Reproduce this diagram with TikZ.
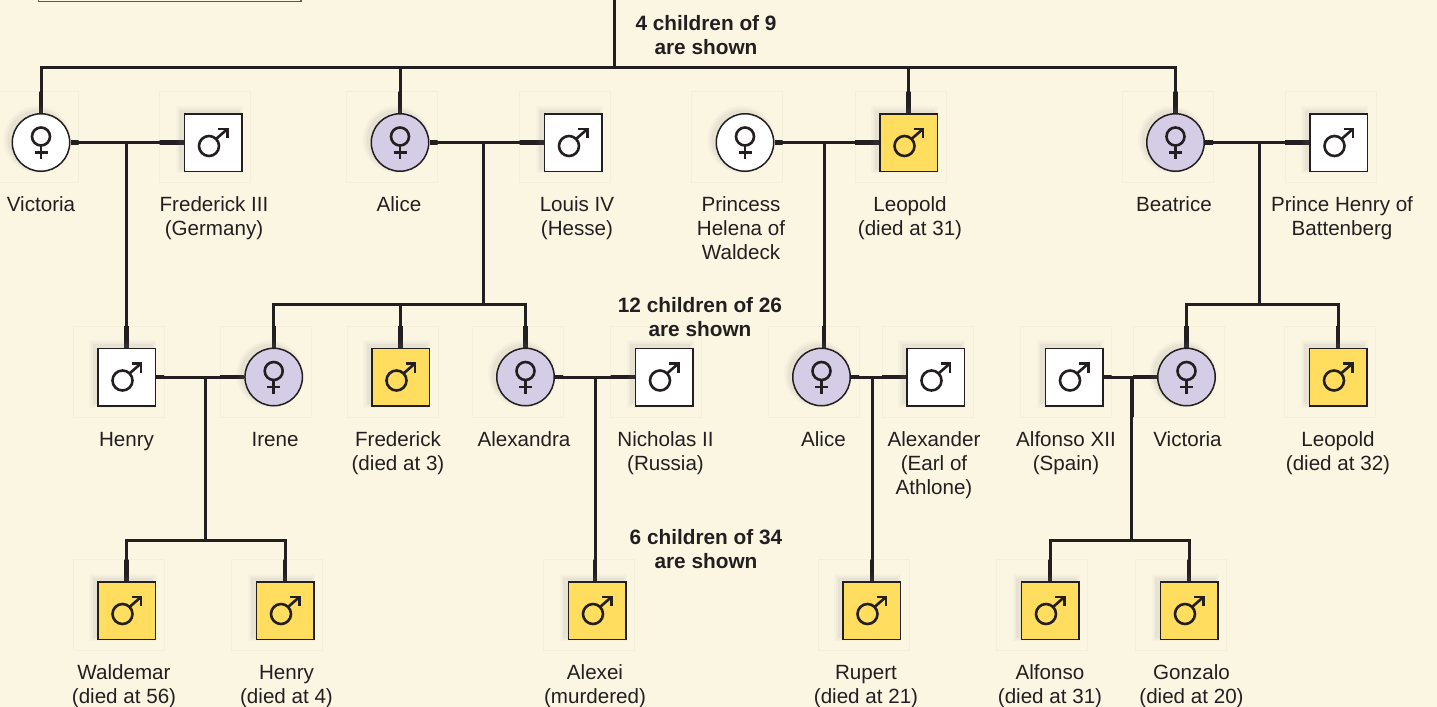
\documentclass[tikz,border=0pt]{standalone}
\usepackage{fontspec}
\setmainfont{Liberation Sans}
\usetikzlibrary{shadows}
\definecolor{bgc}{RGB}{251,246,226}
\definecolor{ink}{RGB}{35,31,32}
\definecolor{purp}{RGB}{213,205,230}
\definecolor{gold}{RGB}{255,221,94}
\definecolor{cellc}{RGB}{245,239,218}
\pgfdeclarelayer{back}
\pgfdeclarelayer{wires}
\pgfsetlayers{back,wires,main}
\newcommand\cellof[1]{([shift={(-53.5,-51)}]#1.center) rectangle ([shift={(37.5,40)}]#1.center)}
\newcommand\allwires{%
  % generation 0 -> 1
  \draw[conn] (t0) -- (t1);
  \draw[conn] (victoria.north) |- (t1) -| (beatrice.north);
  \draw[conn] (alice.north) -- (alice.north |- t1);
  \draw[conn] (leopold.north) -- (leopold.north |- t1);
  % couples generation 1
  \draw[conn] (victoria) -- (fredIII);
  \draw[conn] (alice) -- (louis);
  \draw[conn] (helena) -- (leopold);
  \draw[conn] (beatrice) -- (phenry);
  % descent generation 1 -> 2
  \draw[conn] (m1) -- (m1 |- henry.north);
  \draw[conn] (m2) -- (b2);
  \draw[conn] (irene.north) |- (b2) -| (alexandra.north);
  \draw[conn] (frederick.north) -- (frederick.north |- b2);
  \draw[conn] (m3) -- (m3 |- aliceb.north);
  \draw[conn] (m4) -- (b4);
  \draw[conn] (victoriab.north) |- (b4) -| (leopoldb.north);
  % couples generation 2
  \draw[conn] (henry) -- (irene);
  \draw[conn] (alexandra) -- (nicholas);
  \draw[conn] (aliceb) -- (alexander);
  \draw[conn] (alfonsoxii) -- (victoriab);
  % descent generation 2 -> 3
  \draw[conn] (m5) -- (b5);
  \draw[conn] (waldemar.north) |- (b5) -| (henryb.north);
  \draw[conn] (m6) -- (m6 |- alexei.north);
  \draw[conn] (m7) -- (m7 |- rupert.north);
  \draw[conn] (m8) -- (b8);
  \draw[conn] (alfonso.north) |- (b8) -| (gonzalo.north);
}
\begin{document}
\begin{tikzpicture}[x=0.5pt,y=-0.5pt,
  softshadow/.style={
    drop shadow={shadow xshift=-1.6pt, shadow yshift=1.3pt, shadow scale=1.05, opacity=0.07},
    drop shadow={shadow xshift=-1.6pt, shadow yshift=1.3pt, shadow scale=1.11, opacity=0.05},
    drop shadow={shadow xshift=-1.6pt, shadow yshift=1.3pt, shadow scale=1.17, opacity=0.04}},
  sym/.style={draw=ink, line width=0.75pt, minimum size=28.75pt, inner sep=0pt, softshadow},
  fem/.style={sym, circle},
  mal/.style={sym, rectangle},
  glyph/.style={draw=ink, line width=1.3pt},
  conn/.style={draw=ink, line width=1.5pt},
  lab/.style={font=\fontsize{10.3}{12}\selectfont, align=center, inner sep=0pt, anchor=north, text=ink},
  note/.style={lab, font=\bfseries\fontsize{10.4}{12}\selectfont},
  femsym/.pic={
    \draw[glyph] (0,-6) circle[radius=4.5pt];
    \draw[glyph] (0,3) -- (0,16.5) (-6.5,10) -- (6.5,10);
  },
  malsym/.pic={
    \draw[glyph] (-4,3.5) circle[radius=5pt];
    \draw[glyph] (3.1,-3.6) -- (13.5,-12.7);
    \draw[glyph, line join=miter, line cap=butt] (5,-13.7) -- (14.5,-13.7) -- (14.5,-4.2);
  }
]
\useasboundingbox (0,0) rectangle (1437,707);

% ---------- symbols ----------
% generation 1
\node[fem, fill=white] (victoria) at (41,142.5) {};
\node[mal, fill=white] (fredIII)  at (213,142.5) {};
\node[fem, fill=purp]  (alice)    at (400,142.5) {};
\node[mal, fill=white] (louis)    at (573,142.5) {};
\node[fem, fill=white] (helena)   at (745,142.5) {};
\node[mal, fill=gold]  (leopold)  at (908.5,142.5) {};
\node[fem, fill=purp]  (beatrice) at (1175.5,142.5) {};
\node[mal, fill=white] (phenry)   at (1338.5,142.5) {};
% generation 2
\node[mal, fill=white] (henry)      at (126.5,377) {};
\node[fem, fill=purp]  (irene)      at (273.7,377) {};
\node[mal, fill=gold]  (frederick)  at (400.5,377) {};
\node[fem, fill=purp]  (alexandra)  at (525.5,377) {};
\node[mal, fill=white] (nicholas)   at (664,377) {};
\node[fem, fill=purp]  (aliceb)     at (821.5,377) {};
\node[mal, fill=white] (alexander)  at (935.5,377) {};
\node[mal, fill=white] (alfonsoxii) at (1074,377) {};
\node[fem, fill=purp]  (victoriab)  at (1186.5,377) {};
\node[mal, fill=gold]  (leopoldb)   at (1338,377) {};
% generation 3
\node[mal, fill=gold] (waldemar) at (126.5,610.5) {};
\node[mal, fill=gold] (henryb)   at (285,610.5) {};
\node[mal, fill=gold] (alexei)   at (597,610.5) {};
\node[mal, fill=gold] (rupert)   at (871.5,610.5) {};
\node[mal, fill=gold] (alfonso)  at (1050,610.5) {};
\node[mal, fill=gold] (gonzalo)  at (1189,610.5) {};

% ---------- glyphs ----------
\foreach \n in {victoria,alice,helena,beatrice,irene,alexandra,aliceb,victoriab}
  \pic at (\n) {femsym};
\foreach \n in {fredIII,louis,leopold,phenry,henry,frederick,nicholas,alexander,alfonsoxii,leopoldb,waldemar,henryb,alexei,rupert,alfonso,gonzalo}
  \pic at (\n) {malsym};

% ---------- junction coordinates ----------
\coordinate (t0) at (614,0);
\coordinate (t1) at (614,67);
\coordinate (m1) at (126.5,142.5);
\coordinate (m2) at (483,142.5);
\coordinate (b2) at (483,304);
\coordinate (m3) at (824,142.5);
\coordinate (m4) at (1259,142.5);
\coordinate (b4) at (1259,304);
\coordinate (m5) at (205,377);
\coordinate (b5) at (205,540);
\coordinate (m6) at (595,377);
\coordinate (m7) at (872,377);
\coordinate (m8) at (1131.5,377);
\coordinate (b8) at (1131.5,540);

% ---------- background, cells, connectors ----------
\begin{pgfonlayer}{back}
  \fill[bgc] (0,0) rectangle (1437,707);
  \foreach \n in {victoria,fredIII,alice,louis,helena,leopold,beatrice,phenry,henry,irene,frederick,alexandra,nicholas,aliceb,alexander,alfonsoxii,victoriab,leopoldb,waldemar,henryb,alexei,rupert,alfonso,gonzalo}
    \draw[cellc, line width=0.5pt] \cellof{\n};
  \draw[ink!75, line width=0.75pt] (38.3,-3) -- (38.3,1.5) -- (301,1.5) -- (301,-3);
\end{pgfonlayer}
\begin{pgfonlayer}{wires}
  \allwires
  \begin{scope}[conn/.append style={line width=2.1pt}]
    \clip \cellof{victoria} \cellof{fredIII} \cellof{alice} \cellof{louis}
          \cellof{helena} \cellof{leopold} \cellof{beatrice} \cellof{phenry}
          \cellof{henry} \cellof{irene} \cellof{frederick} \cellof{alexandra}
          \cellof{nicholas} \cellof{aliceb} \cellof{alexander} \cellof{alfonsoxii}
          \cellof{victoriab} \cellof{leopoldb} \cellof{waldemar} \cellof{henryb}
          \cellof{alexei} \cellof{rupert} \cellof{alfonso} \cellof{gonzalo};
    \allwires
  \end{scope}
\end{pgfonlayer}

% ---------- labels ----------
\node[lab] (l-victoria) at (41,194.6)   {\strut Victoria};
\node[lab] (l-fredIII)  at (214,194.6)  {\strut Frederick III\\(Germany)};
\node[lab] (l-alice)    at (399,194.6)  {\strut Alice};
\node[lab] (l-louis)    at (577,194.6)  {\strut Louis IV\\(Hesse)};
\node[lab] (l-helena)   at (741,194.6)  {\strut Princess\\Helena of\\Waldeck};
\node[lab] (l-leopold)  at (910,194.6)  {\strut Leopold\\(died at 31)};
\node[lab] (l-beatrice) at (1174,194.6) {\strut Beatrice};
\node[lab] (l-phenry)   at (1342,194.6) {\strut Prince Henry of\\Battenberg};

\node[lab] (l-henry)      at (126.5,429.6) {\strut Henry};
\node[lab] (l-irene)      at (275,429.6)   {\strut Irene};
\node[lab] (l-frederick)  at (398,429.6)   {\strut Frederick\\(died at 3)};
\node[lab] (l-alexandra)  at (524,429.6)   {\strut Alexandra};
\node[lab] (l-nicholas)   at (665.5,429.6) {\strut Nicholas II\\(Russia)};
\node[lab] (l-aliceb)     at (823.5,429.6) {\strut Alice};
\node[lab] (l-alexander)  at (934,429.6)   {\strut Alexander\\(Earl of\\Athlone)};
\node[lab] (l-alfonsoxii) at (1066,429.6)  {\strut Alfonso XII\\(Spain)};
\node[lab] (l-victoriab)  at (1187.5,429.6) {\strut Victoria};
\node[lab] (l-leopoldb)   at (1338,429.6)  {\strut Leopold\\(died at 32)};

\node[lab] (l-waldemar) at (124,662.6)    {\strut Waldemar\\(died at 56)};
\node[lab] (l-henryb)   at (286.5,662.6)  {\strut Henry\\(died at 4)};
\node[lab] (l-alexei)   at (595,662.6)    {\strut Alexei\\(murdered)};
\node[lab] (l-rupert)   at (866,662.6)    {\strut Rupert\\(died at 21)};
\node[lab] (l-alfonso)  at (1050,662.6)   {\strut Alfonso\\(died at 31)};
\node[lab] (l-gonzalo)  at (1191.5,662.6) {\strut Gonzalo\\(died at 20)};

% ---------- notes ----------
\node[note] (n1) at (706,13.6)  {\strut 4 children of 9\\are shown};
\node[note] (n2) at (700,295.6) {\strut 12 children of 26\\are shown};
\node[note] (n3) at (706,527.6) {\strut 6 children of 34\\are shown};
\end{tikzpicture}
\end{document}
